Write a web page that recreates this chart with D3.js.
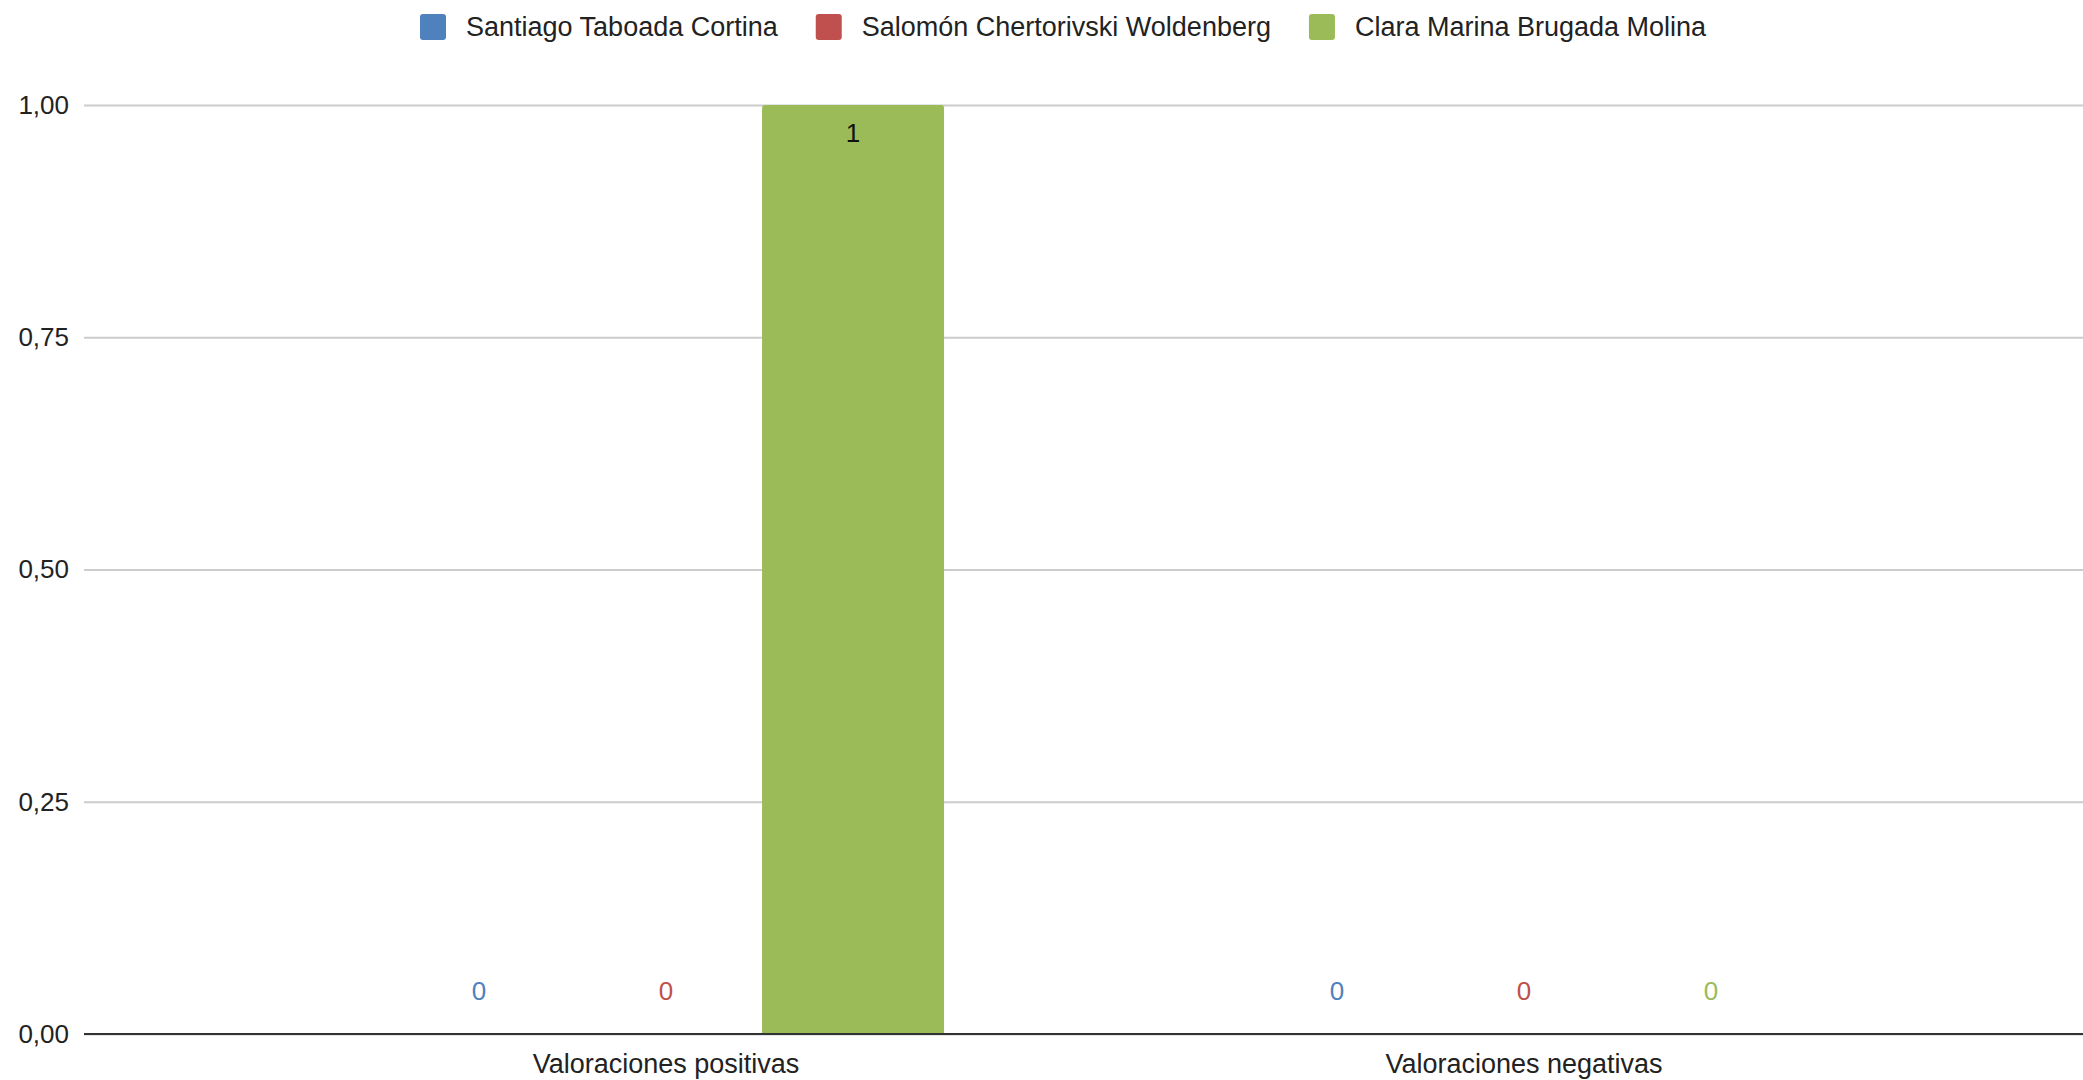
<!DOCTYPE html>
<html><head><meta charset="utf-8">
<script src="https://cdn.jsdelivr.net/npm/d3@7"></script>
<style>html,body{margin:0;padding:0;background:#fff;}svg{display:block;}</style>
</head><body>
<svg id="chart" width="2083" height="1080"></svg>
<script>
const categories = ["Valoraciones positivas", "Valoraciones negativas"];
const seriesNames = ["Santiago Taboada Cortina", "Salomón Chertorivski Woldenberg", "Clara Marina Brugada Molina"];
const seriesColors = ["#4f81bd", "#c0504d", "#9bbb59"];
const santiago = [0, 0];
const salomon = [0, 0];
const clara = [1, 0];
const yTicks = [0, 0.25, 0.5, 0.75, 1];
const seriesValues = [santiago, salomon, clara];

const W = 2083, H = 1080;
const plotL = 84, plotR = 2083, plotT = 105, plotB = 1034;
const font = "'Liberation Sans', Arial, sans-serif";
const fs = 26, fsLeg = 27, fsCat = 27;
const svg = d3.select("#chart");

const y = d3.scaleLinear().domain([0, 1]).range([plotB, plotT]);
const x0 = d3.scaleBand().domain(categories).range([plotL + 153, plotR - 130]).paddingInner(0).paddingOuter(0);
const groupW = x0.bandwidth() * 0.654;
const x1 = d3.scaleBand().domain(seriesNames).range([-groupW / 2, groupW / 2]).paddingInner(0.027).paddingOuter(0.0135);

// gridlines + y labels via axis
const yAxis = d3.axisLeft(y).tickValues(yTicks).tickSize(-(plotR - plotL)).tickPadding(14)
  .tickFormat(d => d3.format(".2f")(d).replace(".", ","));
const gy = svg.append("g").attr("transform", `translate(${plotL},0)`).call(yAxis);
gy.select(".domain").remove();
gy.selectAll(".tick line").attr("stroke", "#cccccc").attr("stroke-width", 2);
gy.selectAll(".tick text").attr("font-family", font).attr("font-size", fs).attr("fill", "#222").attr("x", -15);

// bars
const data = [];
categories.forEach((c, ci) => seriesNames.forEach((s, si) => data.push({c, s, si, v: seriesValues[si][ci]})));
const cx = d => x0(d.c) + x0.bandwidth() / 2 + x1(d.s);
const r = 3;
svg.append("g").selectAll("path").data(data.filter(d => d.v > 0)).join("path")
  .attr("d", d => {
    const xL = cx(d), xR = xL + x1.bandwidth(), yt = y(d.v), yb = y(0);
    return `M${xL},${yb}V${yt + r}Q${xL},${yt} ${xL + r},${yt}H${xR - r}Q${xR},${yt} ${xR},${yt + r}V${yb}Z`;
  })
  .attr("fill", d => seriesColors[d.si]);

// baseline
svg.append("line").attr("x1", plotL).attr("x2", plotR).attr("y1", y(0)).attr("y2", y(0))
  .attr("stroke", "#333").attr("stroke-width", 2);

// data labels
svg.append("g").selectAll("text").data(data).join("text")
  .attr("x", d => cx(d) + x1.bandwidth() / 2)
  .attr("y", d => d.v > 0 ? y(d.v) + 28 : y(0) - 43)
  .attr("dy", "0.35em")
  .attr("text-anchor", "middle")
  .attr("font-family", font).attr("font-size", fs)
  .attr("fill", d => d.v > 0 ? "#111" : seriesColors[d.si])
  .text(d => d3.format("d")(d.v));

// x labels
const xAxis = d3.axisBottom(x0).tickSize(0).tickPadding(0);
const gx = svg.append("g").attr("transform", `translate(0,${plotB})`).call(xAxis);
gx.select(".domain").remove();
gx.selectAll(".tick text").attr("font-family", font).attr("font-size", fsCat).attr("fill", "#222")
  .attr("y", 30).attr("dy", "0.35em");

// legend
const leg = svg.append("g");
let lx = 420;
seriesNames.forEach((s, i) => {
  leg.append("rect").attr("x", lx).attr("y", 14).attr("width", 26).attr("height", 26).attr("rx", 3)
    .attr("fill", seriesColors[i]);
  const t = leg.append("text").attr("x", lx + 46).attr("y", 27).attr("dy", "0.35em")
    .attr("font-family", font).attr("font-size", fsLeg).attr("fill", "#222").text(s);
  lx += 46 + t.node().getComputedTextLength() + 38;
});
</script>
</body></html>
